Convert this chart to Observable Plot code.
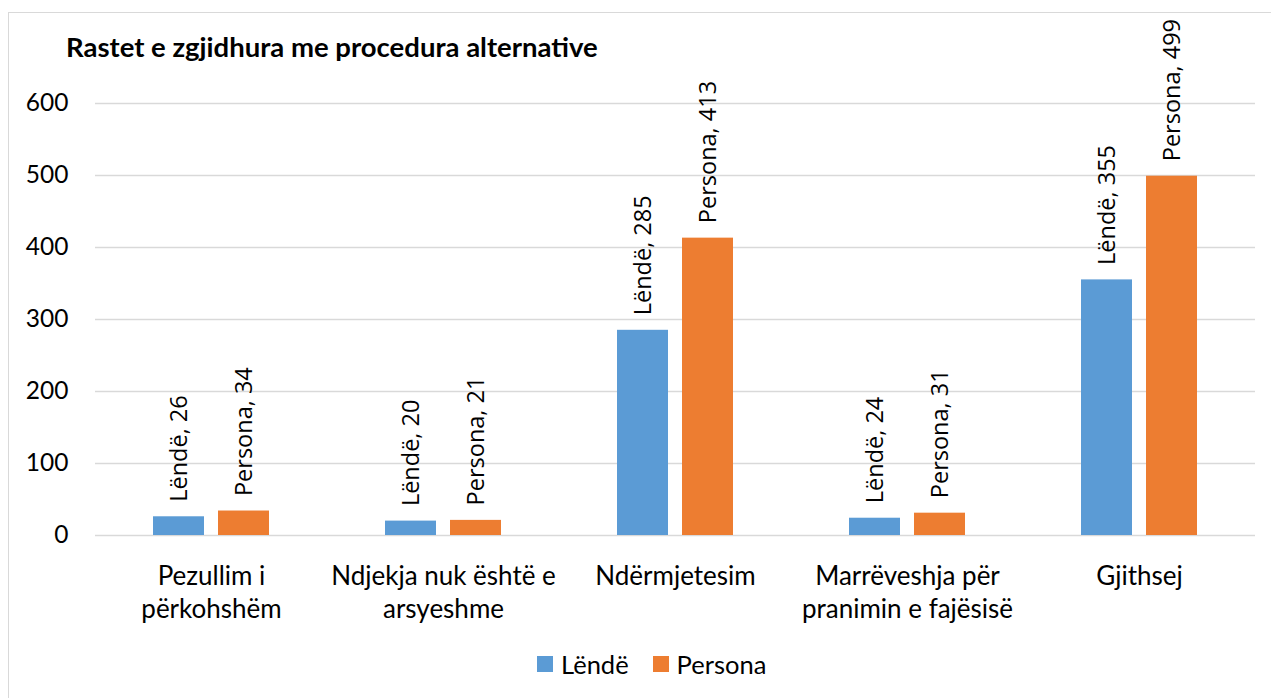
<!DOCTYPE html>
<html><head><meta charset="utf-8">
<script src="https://cdn.jsdelivr.net/npm/d3@7"></script>
<script src="https://cdn.jsdelivr.net/npm/@observablehq/plot@0.6"></script>
<style>
body{margin:0;background:#fff;width:1271px;height:698px;overflow:hidden;position:relative;font-family:Lato,sans-serif;color:#000;}
#frame{position:absolute;left:8px;top:12px;width:1300px;height:720px;border:1.5px solid #d9d9d9;box-sizing:border-box;}
#chart{position:absolute;left:0;top:0;}
#title{position:absolute;left:66px;top:33px;font:bold 27.5px Lato,sans-serif;line-height:27px;white-space:nowrap;}
#legend{position:absolute;left:537px;top:651px;height:26px;line-height:26px;display:flex;align-items:center;font:25.5px Lato,sans-serif;}
#legend .sw{width:16px;height:16px;display:inline-block;margin-right:8px;}
#legend .it{display:flex;align-items:center;margin-right:24px;}
</style></head>
<body>
<div id="frame"></div>
<div id="chart"></div>
<div id="title"></div>
<div id="legend"></div>
<script>
const titleText = "Rastet e zgjidhura me procedura alternative";
const categories = ["Pezullim i përkohshëm","Ndjekja nuk është e arsyeshme","Ndërmjetesim","Marrëveshja për pranimin e fajësisë","Gjithsej"];
const categoryLines = ["Pezullim i\npërkohshëm","Ndjekja nuk është e\narsyeshme","Ndërmjetesim","Marrëveshja për\npranimin e fajësisë","Gjithsej"];
const series = ["Lëndë","Persona"];
const lende = [26,20,285,24,355];
const persona = [34,21,413,31,499];
const yTicks = [0,100,200,300,400,500,600];
const colors = ["#5B9BD5","#ED7D31"];

const data = categories.flatMap((c,i)=>[
  {cat:c, ser:series[0], v:lende[i]},
  {cat:c, ser:series[1], v:persona[i]}
]);

const chart = Plot.plot({
  width:1271, height:640,
  marginTop:103, marginBottom:105, marginLeft:95, marginRight:16,
  style:{fontFamily:"Lato, sans-serif", color:"#000", background:"transparent", overflow:"visible"},
  fx:{domain:categories, padding:0, label:null},
  x:{domain:series, paddingInner:0.212, paddingOuter:0.864, axis:null},
  y:{domain:[0,600], label:null},
  color:{domain:series, range:colors},
  marks:[
    Plot.gridY(yTicks,{stroke:"#d9d9d9", strokeOpacity:1, strokeWidth:1.3}),
    Plot.axisY(yTicks,{tickSize:0, tickPadding:27, fontSize:24.5, label:null}),
    Plot.axisFx({anchor:"bottom", tickSize:0, tickPadding:25, fontSize:26, lineHeight:1.3, label:null,
      tickFormat:d=>categoryLines[categories.indexOf(d)]}),
    Plot.barY(data,{fx:"cat", x:"ser", y:"v", fill:"ser"}),
    Plot.text(data,{fx:"cat", x:"ser", y:"v", text:d=>`${d.ser}, ${d.v}`, rotate:-90, textAnchor:"start",
      dy:-15, fontSize:23.5, fontFamily:"'Open Sans', sans-serif", fill:"#000"})
  ]
});
document.getElementById("chart").appendChild(chart);
document.getElementById("title").textContent = titleText;
const lg = document.getElementById("legend");
series.forEach((s,i)=>{
  const it = document.createElement("span"); it.className="it";
  const sw = document.createElement("span"); sw.className="sw"; sw.style.background=colors[i];
  const tx = document.createElement("span"); tx.textContent=s;
  it.appendChild(sw); it.appendChild(tx); lg.appendChild(it);
});
</script>
</body></html>
